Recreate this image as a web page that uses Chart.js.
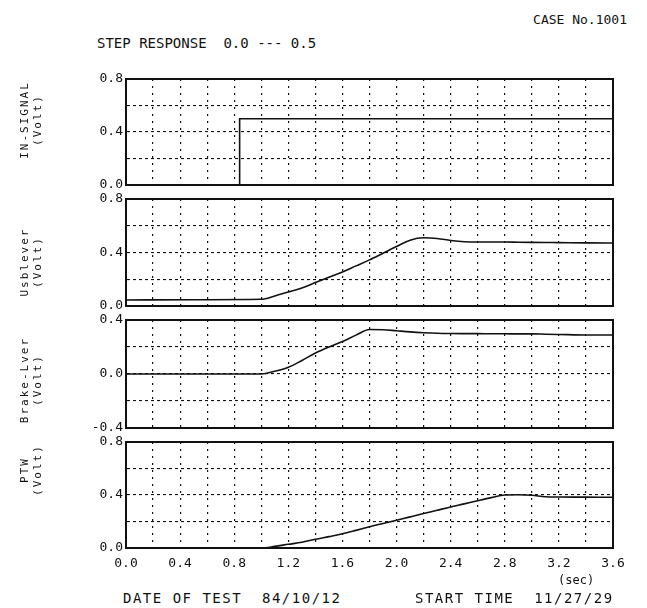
<!DOCTYPE html>
<html lang="en">
<head>
<meta charset="UTF-8">
<title>Step Response 0.0 --- 0.5</title>
<script src="https://cdn.jsdelivr.net/npm/chart.js@4"></script>
<style>
  body { margin: 0; background: #fff; }
  .page { position: relative; width: 647px; height: 608px; overflow: hidden; font-family: "DejaVu Sans Mono", monospace; color: #111; }
  .page canvas { position: absolute; left: 0; }
  .txt { position: absolute; white-space: pre; font-size: 13px; line-height: 1; }
  .ylab { position: absolute; width: 130px; text-align: center; white-space: pre; font-size: 11px; line-height: 13px; letter-spacing: 2px; transform: translate(-50%, -50%) rotate(-90deg); }
</style>
</head>
<body>
<div class="page">
  <div class="txt" style="right:20px; top:13px;">CASE No.1001</div>
  <div class="txt" style="left:97px; top:36px; font-size:14px;">STEP RESPONSE  0.0 --- 0.5</div>

  <canvas id="c1"></canvas>
  <canvas id="c2"></canvas>
  <canvas id="c3"></canvas>
  <canvas id="c4"></canvas>

  <div class="ylab" style="left:31px; top:120px;">IN-SIGNAL
(Volt)</div>
  <div class="ylab" style="left:31px; top:262px;">Usblever
(Volt)</div>
  <div class="ylab" style="left:31px; top:380px;">Brake-Lver
(Volt)</div>
  <div class="ylab" style="left:31px; top:470px;">PTW
(Volt)</div>

  <div class="txt" style="left:558px; top:574px; font-size:12px;">(sec)</div>
  <div class="txt" style="left:123px; top:591px; font-size:14px; letter-spacing:1.5px;">DATE OF TEST  84/10/12</div>
  <div class="txt" style="left:415px; top:591px; font-size:14px; letter-spacing:1.5px;">START TIME  11/27/29</div>
</div>

<script>
// time axis (sec) and read-off values (Volt)
const stepTime  = [0, 0.84, 0.84, 3.6];
const inSignal  = [0, 0, 0.5, 0.5];

const timeSec   = [0, 0.5, 1.0, 1.1, 1.2, 1.3, 1.4, 1.5, 1.6, 1.7, 1.8, 1.9, 2.0, 2.1, 2.2, 2.3, 2.4, 2.5, 2.6, 2.7, 2.8, 2.9, 3.0, 3.1, 3.2, 3.4, 3.6];
const usblever  = [0.045, 0.047, 0.05, 0.075, 0.105, 0.135, 0.175, 0.215, 0.255, 0.30, 0.345, 0.395, 0.445, 0.492, 0.51, 0.505, 0.49, 0.48, 0.478, 0.478, 0.478, 0.477, 0.476, 0.475, 0.474, 0.472, 0.471];
const brakeLver = [0, 0, 0, 0.02, 0.05, 0.10, 0.155, 0.20, 0.24, 0.288, 0.33, 0.328, 0.32, 0.312, 0.306, 0.302, 0.30, 0.299, 0.299, 0.298, 0.298, 0.297, 0.297, 0.295, 0.293, 0.289, 0.289];
const ptw       = [0, 0, 0, 0.012, 0.028, 0.043, 0.066, 0.086, 0.107, 0.133, 0.16, 0.185, 0.21, 0.235, 0.26, 0.285, 0.31, 0.333, 0.357, 0.38, 0.40, 0.402, 0.398, 0.387, 0.385, 0.384, 0.383];

const xTickLabels     = ['0.0', '0.4', '0.8', '1.2', '1.6', '2.0', '2.4', '2.8', '3.2', '3.6'];
const voltTickLabels  = ['0.0', '0.4', '0.8'];
const brakeTickLabels = ['-0.4', '0.0', '0.4'];

// panel layout in page pixels
const panels = [
    { id: 'c1', top: 79,  bottom: 185, min: 0,    max: 0.8, ticks: voltTickLabels,  xs: stepTime, ys: inSignal, smooth: false },
    { id: 'c2', top: 199, bottom: 306, min: 0,    max: 0.8, ticks: voltTickLabels,  xs: timeSec,  ys: usblever, smooth: true },
    { id: 'c3', top: 320, bottom: 428, min: -0.4, max: 0.4, ticks: brakeTickLabels, xs: timeSec,  ys: brakeLver, smooth: true },
    { id: 'c4', top: 442, bottom: 548, min: 0,    max: 0.8, ticks: voltTickLabels,  xs: timeSec,  ys: ptw,      smooth: true },
];

const INK = '#111';
const FONT = { family: '"DejaVu Sans Mono", monospace', size: 13 };
const PAD = 12;
const X_AXIS_H = 36;

const fmt = v => (Math.round(v * 10) / 10 + 0).toFixed(1);

// solid frame round each plot area
const framePlugin = {
    id: 'frame',
    afterDraw(chart) {
        const { ctx, chartArea: a } = chart;
        ctx.save();
        ctx.strokeStyle = INK;
        ctx.lineWidth = 2;
        ctx.strokeRect(a.left, a.top, a.right - a.left, a.bottom - a.top);
        ctx.restore();
    }
};

panels.forEach((p, i) => {
    const last = i === panels.length - 1;
    const canvas = document.getElementById(p.id);
    const h = (p.bottom - p.top) + PAD + (last ? X_AXIS_H : PAD);
    canvas.width = 647;
    canvas.height = h;
    canvas.style.top = (p.top - PAD) + 'px';

    new Chart(canvas.getContext('2d'), {
        type: 'line',
        data: {
            datasets: [{
                data: p.xs.map((x, k) => ({ x: x, y: p.ys[k] })),
                borderColor: INK,
                borderWidth: 1.6,
                pointRadius: 0,
                fill: false,
                tension: 0,
                cubicInterpolationMode: p.smooth ? 'monotone' : 'default'
            }]
        },
        options: {
            responsive: false,
            animation: false,
            events: [],
            layout: { padding: { top: PAD, bottom: last ? 0 : PAD, left: 0, right: 34 } },
            plugins: { legend: { display: false }, tooltip: { enabled: false } },
            scales: {
                x: {
                    type: 'linear',
                    min: 0,
                    max: 3.6,
                    afterFit: s => { s.height = last ? X_AXIS_H : 0; },
                    grid: { color: INK, lineWidth: 1.2, drawTicks: false },
                    border: { display: true, color: INK, width: 2, dash: [2, 5] },
                    ticks: {
                        display: last,
                        stepSize: 0.2,
                        autoSkip: false,
                        maxRotation: 0,
                        padding: 8,
                        color: INK,
                        font: FONT,
                        callback: v => xTickLabels.includes(fmt(v)) ? fmt(v) : ''
                    }
                },
                y: {
                    min: p.min,
                    max: p.max,
                    afterFit: s => { s.width = 126; },
                    grid: { color: INK, lineWidth: 1.1, drawTicks: false },
                    border: { display: true, color: INK, width: 2, dash: [3, 3] },
                    ticks: {
                        stepSize: 0.2,
                        autoSkip: false,
                        padding: 3,
                        color: INK,
                        font: FONT,
                        callback: v => p.ticks.includes(fmt(v)) ? fmt(v) : ''
                    }
                }
            }
        },
        plugins: [framePlugin]
    });
});
</script>
</body>
</html>
